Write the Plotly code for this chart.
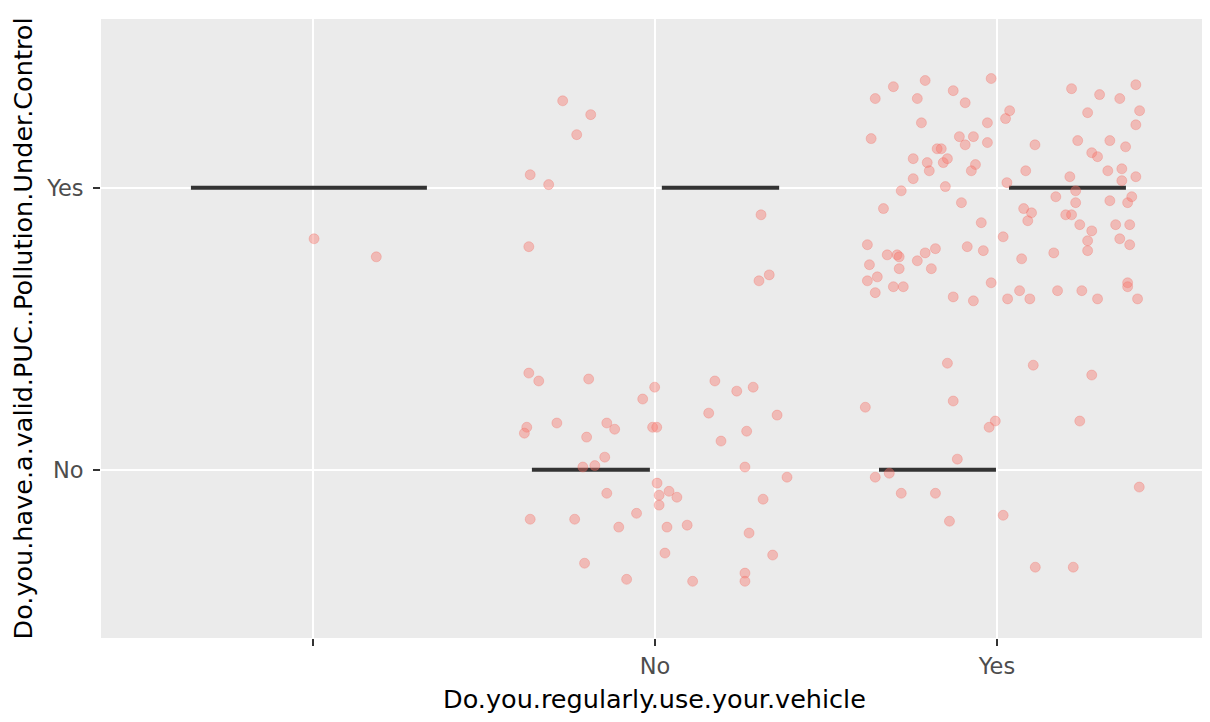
import plotly.graph_objects as go

# ---- categories / tick labels ----
x_categories = ["", "No", "Yes"]          # Do.you.regularly.use.your.vehicle
y_categories = ["No", "Yes"]              # Do.you.have.a.valid.PUC..Pollution.Under.Control

# ---- jittered observations (x jitter offset from category, jittered y value) ----
blank_jit_x = [0.003, 0.185]
blank_y = [1.819, 1.755]

no_jit_x = [-0.270, -0.188, -0.229, -0.365, -0.311, -0.369, 0.310, 0.334, 0.304,
            -0.369, -0.340, -0.194, -0.001, -0.036, 0.175, 0.239, 0.287, 0.157, 0.357,
            -0.375, -0.382, -0.287, -0.141, -0.118, -0.007, 0.005, -0.200, 0.268, 0.193,
            -0.147, -0.211, -0.176, 0.263, 0.386, 0.006, -0.141, 0.041, 0.012, 0.064,
            0.012, 0.316, -0.365, -0.235, -0.054, -0.106, 0.035, 0.094, 0.275, 0.029,
            0.344, -0.206, -0.083, 0.110, 0.263, 0.263]
no_y = [2.308, 2.259, 2.188, 2.046, 2.011, 1.791, 1.904, 1.691, 1.670,
        1.343, 1.315, 1.322, 1.293, 1.251, 1.315, 1.279, 1.293, 1.201, 1.194,
        1.151, 1.130, 1.166, 1.166, 1.144, 1.151, 1.151, 1.116, 1.137, 1.102,
        1.045, 1.010, 1.015, 1.010, 0.974, 0.953, 0.917, 0.924, 0.910, 0.903,
        0.875, 0.896, 0.825, 0.825, 0.846, 0.797, 0.797, 0.804, 0.776, 0.705,
        0.698, 0.669, 0.612, 0.605, 0.634, 0.605]

yes_jit_x = [-0.210, -0.303, -0.356, -0.233, -0.128, -0.093, -0.017, -0.221, -0.028, -0.368,
             -0.110, -0.069, -0.093, -0.028, -0.175, -0.163, -0.245, -0.204, -0.157, -0.145,
             -0.198, -0.063, -0.075, -0.245, -0.151, -0.280, -0.104, -0.332, -0.046, -0.379,
             -0.321, -0.292, -0.286, -0.210, -0.180, -0.087, -0.040, -0.373, -0.286, -0.233,
             -0.192, -0.350, -0.379, -0.017, -0.356, -0.303, -0.274, -0.128, -0.069,
             0.218, 0.300, 0.359, 0.406, 0.417, 0.406, 0.037, 0.025, 0.265, 0.111,
             0.236, 0.330, 0.376, 0.277, 0.294, 0.084, 0.213, 0.324, 0.365, 0.365,
             0.406, 0.029, 0.230, 0.172, 0.230, 0.330, 0.382, 0.394, 0.078, 0.101,
             0.090, 0.201, 0.218, 0.242, 0.277, 0.265, 0.265, 0.347, 0.388, 0.359,
             0.388, 0.018, 0.166, 0.072, 0.382, 0.382, 0.066, 0.177, 0.248, 0.031,
             0.096, 0.294, 0.411,
             -0.145, 0.106, 0.277, -0.385, -0.128, -0.005, -0.023, 0.242, -0.116, -0.315,
             -0.356, 0.416, -0.280, -0.180, -0.139, 0.018, 0.112, 0.223]
yes_y = [2.380, 2.358, 2.316, 2.316, 2.344, 2.301, 2.387, 2.230, 2.230, 2.174,
         2.181, 2.181, 2.152, 2.160, 2.138, 2.138, 2.103, 2.089, 2.089, 2.103,
         2.060, 2.082, 2.060, 2.032, 2.004, 1.989, 1.947, 1.926, 1.876, 1.798,
         1.762, 1.762, 1.755, 1.769, 1.784, 1.791, 1.777, 1.727, 1.713, 1.741,
         1.713, 1.684, 1.670, 1.663, 1.628, 1.649, 1.649, 1.613, 1.599,
         2.351, 2.330, 2.316, 2.365, 2.273, 2.223, 2.273, 2.245, 2.266, 2.152,
         2.167, 2.167, 2.145, 2.124, 2.110, 2.060, 2.039, 2.060, 2.067, 2.025,
         2.039, 2.018, 1.989, 1.968, 1.947, 1.954, 1.947, 1.968, 1.926, 1.911,
         1.883, 1.904, 1.904, 1.869, 1.847, 1.812, 1.777, 1.869, 1.869, 1.819,
         1.798, 1.826, 1.769, 1.748, 1.663, 1.649, 1.635, 1.635, 1.635, 1.606,
         1.606, 1.606, 1.606,
         1.378, 1.371, 1.336, 1.222, 1.244, 1.173, 1.151, 1.173, 1.038, 0.988,
         0.974, 0.939, 0.917, 0.917, 0.818, 0.839, 0.655, 0.655]

# ---- summary crossbars (x category, y level, start / end offset from category) ----
bar_cat = ["", "No", "No", "Yes", "Yes"]
bar_level = ["Yes", "No", "Yes", "No", "Yes"]
bar_start = [-0.357, -0.360, 0.020, -0.345, 0.035]
bar_end = [0.333, -0.015, 0.363, -0.003, 0.377]

x_title = "Do.you.regularly.use.your.vehicle"
y_title = "Do.you.have.a.valid.PUC..Pollution.Under.Control"

xpos = {c: i + 1 for i, c in enumerate(x_categories)}
ypos = {c: i + 1 for i, c in enumerate(y_categories)}

fig = go.Figure()

# crossbars
bx, by = [], []
for c, lv, s, e in zip(bar_cat, bar_level, bar_start, bar_end):
    bx += [xpos[c] + s, xpos[c] + e, None]
    by += [ypos[lv], ypos[lv], None]
fig.add_trace(go.Scatter(x=bx, y=by, mode="lines",
                         line=dict(color="#333333", width=4),
                         hoverinfo="skip", showlegend=False))

# points
px_all, py_all = [], []
for cat, jx, yy in [("", blank_jit_x, blank_y), ("No", no_jit_x, no_y), ("Yes", yes_jit_x, yes_y)]:
    px_all += [xpos[cat] + j for j in jx]
    py_all += list(yy)
fig.add_trace(go.Scatter(x=px_all, y=py_all, mode="markers",
                         marker=dict(size=10, color="rgba(248,118,109,0.42)",
                                     line=dict(width=1, color="rgba(240,100,90,0.28)")),
                         showlegend=False))

font_family = "DejaVu Sans, Arial, sans-serif"
# the page body has an 8px default margin, so the figure is 8px smaller than the window
fig.update_layout(
    width=1202, height=714,
    margin=dict(l=93, r=2, t=11, b=84),
    paper_bgcolor="white", plot_bgcolor="#EBEBEB",
    font=dict(family=font_family),
    showlegend=False,
)
fig.update_xaxes(
    range=[0.380, 3.617], tickmode="array",
    tickvals=[xpos[c] for c in x_categories], ticktext=x_categories,
    showgrid=True, gridcolor="white", gridwidth=2, zeroline=False, showline=False,
    ticks="outside", ticklen=7, tickwidth=1.5, tickcolor="#333333",
    tickfont=dict(size=22.5, color="#4D4D4D", family=font_family),
    ticklabelstandoff=1,
    title=dict(text=x_title, font=dict(size=25.5, color="black", family=font_family), standoff=12),
)
fig.update_yaxes(
    range=[0.404, 2.598], tickmode="array",
    tickvals=[ypos[c] for c in y_categories], ticktext=y_categories,
    showgrid=True, gridcolor="white", gridwidth=2, zeroline=False, showline=False,
    ticks="outside", ticklen=7, tickwidth=1.5, tickcolor="#333333",
    tickfont=dict(size=22.5, color="#4D4D4D", family=font_family),
    ticklabelstandoff=5,
    title=dict(text=y_title, font=dict(size=25.5, color="black", family=font_family), standoff=9),
)

fig.write_html("out.html")
